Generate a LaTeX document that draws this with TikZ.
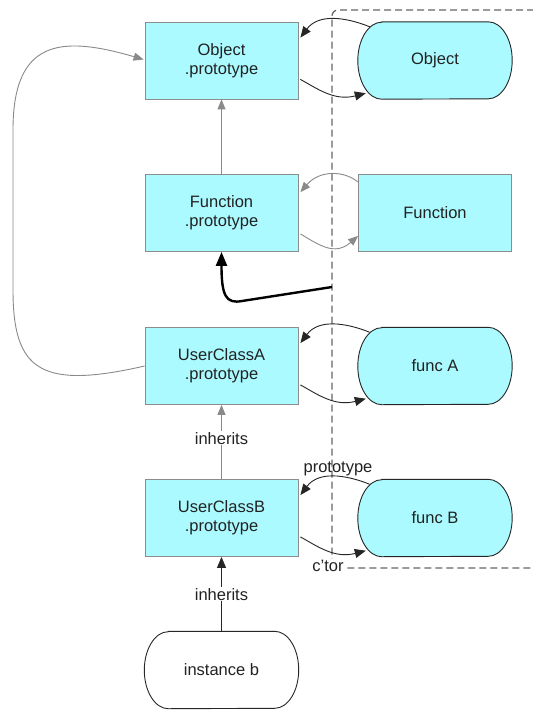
\documentclass[tikz,border=0pt]{standalone}
\usepackage{fontspec}
\setmainfont{Liberation Sans}
\usetikzlibrary{arrows.meta,calc,backgrounds}
\definecolor{cyanfill}{HTML}{AAFAFF}
\definecolor{boxline}{HTML}{8C8C8C}
\definecolor{grayline}{HTML}{8A8A8A}
\definecolor{txt}{HTML}{222222}
\definecolor{dashcol}{HTML}{666666}
\newcommand\stadiumbg[2]{%
  \path[draw=black!85, fill=#2, line width=0.9pt]
    ($(#1.north west)+(24,0)$) -- ($(#1.north east)+(-24,0)$)
    arc[start angle=90, end angle=-90, x radius=24pt, y radius=38.5pt]
    -- ($(#1.south west)+(24,0)$)
    arc[start angle=270, end angle=90, x radius=24pt, y radius=38.5pt] -- cycle;}
\begin{document}
\begin{tikzpicture}[x=1pt,y=-1pt,
  font=\fontsize{16.5}{19}\selectfont,
  box/.style={draw=boxline, fill=cyanfill, line width=0.8pt, minimum width=153pt,
    minimum height=77pt, inner sep=0pt, align=center, text=txt},
  stad/.style={minimum width=154pt, minimum height=77pt, inner sep=0pt, align=center, text=txt},
  conn/.style={line width=0.9pt, draw=black!85, -{Triangle[length=11pt,width=9pt]}},
  gconn/.style={line width=0.9pt, draw=grayline, -{Triangle[length=10pt,width=8pt]}, color=grayline},
  tconn/.style={line width=2.4pt, -{Triangle[length=14pt,width=11pt]}},
  lbl/.style={inner sep=1pt, text=txt},
  dashbox/.style={draw=dashcol, line width=1.3pt, dash pattern=on 7pt off 4pt}]
\useasboundingbox (0,0) rectangle (533,710);
% nodes
\node[box] (objp) at (221.5,60.5) {Object\\.prototype};
\node[stad] (obj) at (435,60.5) {Object};
\node[box] (fnp) at (221.5,213) {Function\\.prototype};
\node[box] (fn) at (435,213) {Function};
\node[box] (ucap) at (221.5,366) {UserClassA\\.prototype};
\node[stad] (fa) at (435,366) {func A};
\node[box] (ucbp) at (221.5,518) {UserClassB\\.prototype};
\node[stad] (fb) at (435,518) {func B};
\node[stad] (ib) at (221.5,670) {instance b};
\begin{scope}[on background layer]
  \fill[white] (0,0) rectangle (533,710);
  % dashed region
  \draw[dashbox, rounded corners=6pt] (545,10) -| (332,568) -- (545,568);
  \stadiumbg{obj}{cyanfill}
  \stadiumbg{fa}{cyanfill}
  \stadiumbg{fb}{cyanfill}
  \stadiumbg{ib}{white}
\end{scope}
% Object pair
\draw[conn] ($(obj.north west)+(12,5)$) .. controls +(-25,-10) and +(18,-24) .. ($(objp.north east)+(2,16)$);
\draw[conn] ($(objp.south east)+(2,-20)$) .. controls +(18,10) and +(-31,8) .. ($(obj.south west)+(8,-6)$);
% Function pair
\draw[gconn] ($(fn.north west)+(0,8)$) .. controls +(-13,-11) and +(20,-23) .. ($(fnp.north east)+(2,18)$);
\draw[gconn] ($(fnp.south east)+(2,-18)$) .. controls +(20,12) and +(-23,20) .. ($(fn.south west)+(0,-16)$);
% func A pair
\draw[conn] ($(fa.north west)+(12,5)$) .. controls +(-25,-10) and +(18,-24) .. ($(ucap.north east)+(2,16)$);
\draw[conn] ($(ucap.south east)+(2,-20)$) .. controls +(18,10) and +(-31,8) .. ($(fa.south west)+(8,-6)$);
% func B pair
\draw[conn] ($(fb.north west)+(12,5)$) .. controls +(-25,-10) and +(18,-24) .. ($(ucbp.north east)+(2,16)$);
\draw[conn] ($(ucbp.south east)+(2,-20)$) .. controls +(18,10) and +(-31,8) .. ($(fb.south west)+(8,-6)$);
% vertical links
\draw[gconn] (fnp.north) -- (objp.south);
\draw[gconn] (ucbp.north) -- node[lbl, fill=white, pos=0.55] {inherits} (ucap.south);
\draw[conn] (ib.north) -- node[lbl, fill=white, pos=0.5] {inherits} (ucbp.south);
% thick arrow from dashed line
\coordinate (dl) at (332,287);
\draw[tconn] (dl) -- (242,301) .. controls (226,304) and (221.5,296) .. (fnp.south);
% left curve
\draw[gconn] (ucap.west) .. controls (40,390) and (13,370) .. (13,290) -- (13,130) .. controls (13,40) and (60,35) .. ($(objp.west)+(-1,-1)$);
% labels
\node[lbl] (lproto) at (338,469) {prototype};
\node[lbl, fill=white] (lctor) at (328,566) {c'tor};
\end{tikzpicture}
\end{document}
